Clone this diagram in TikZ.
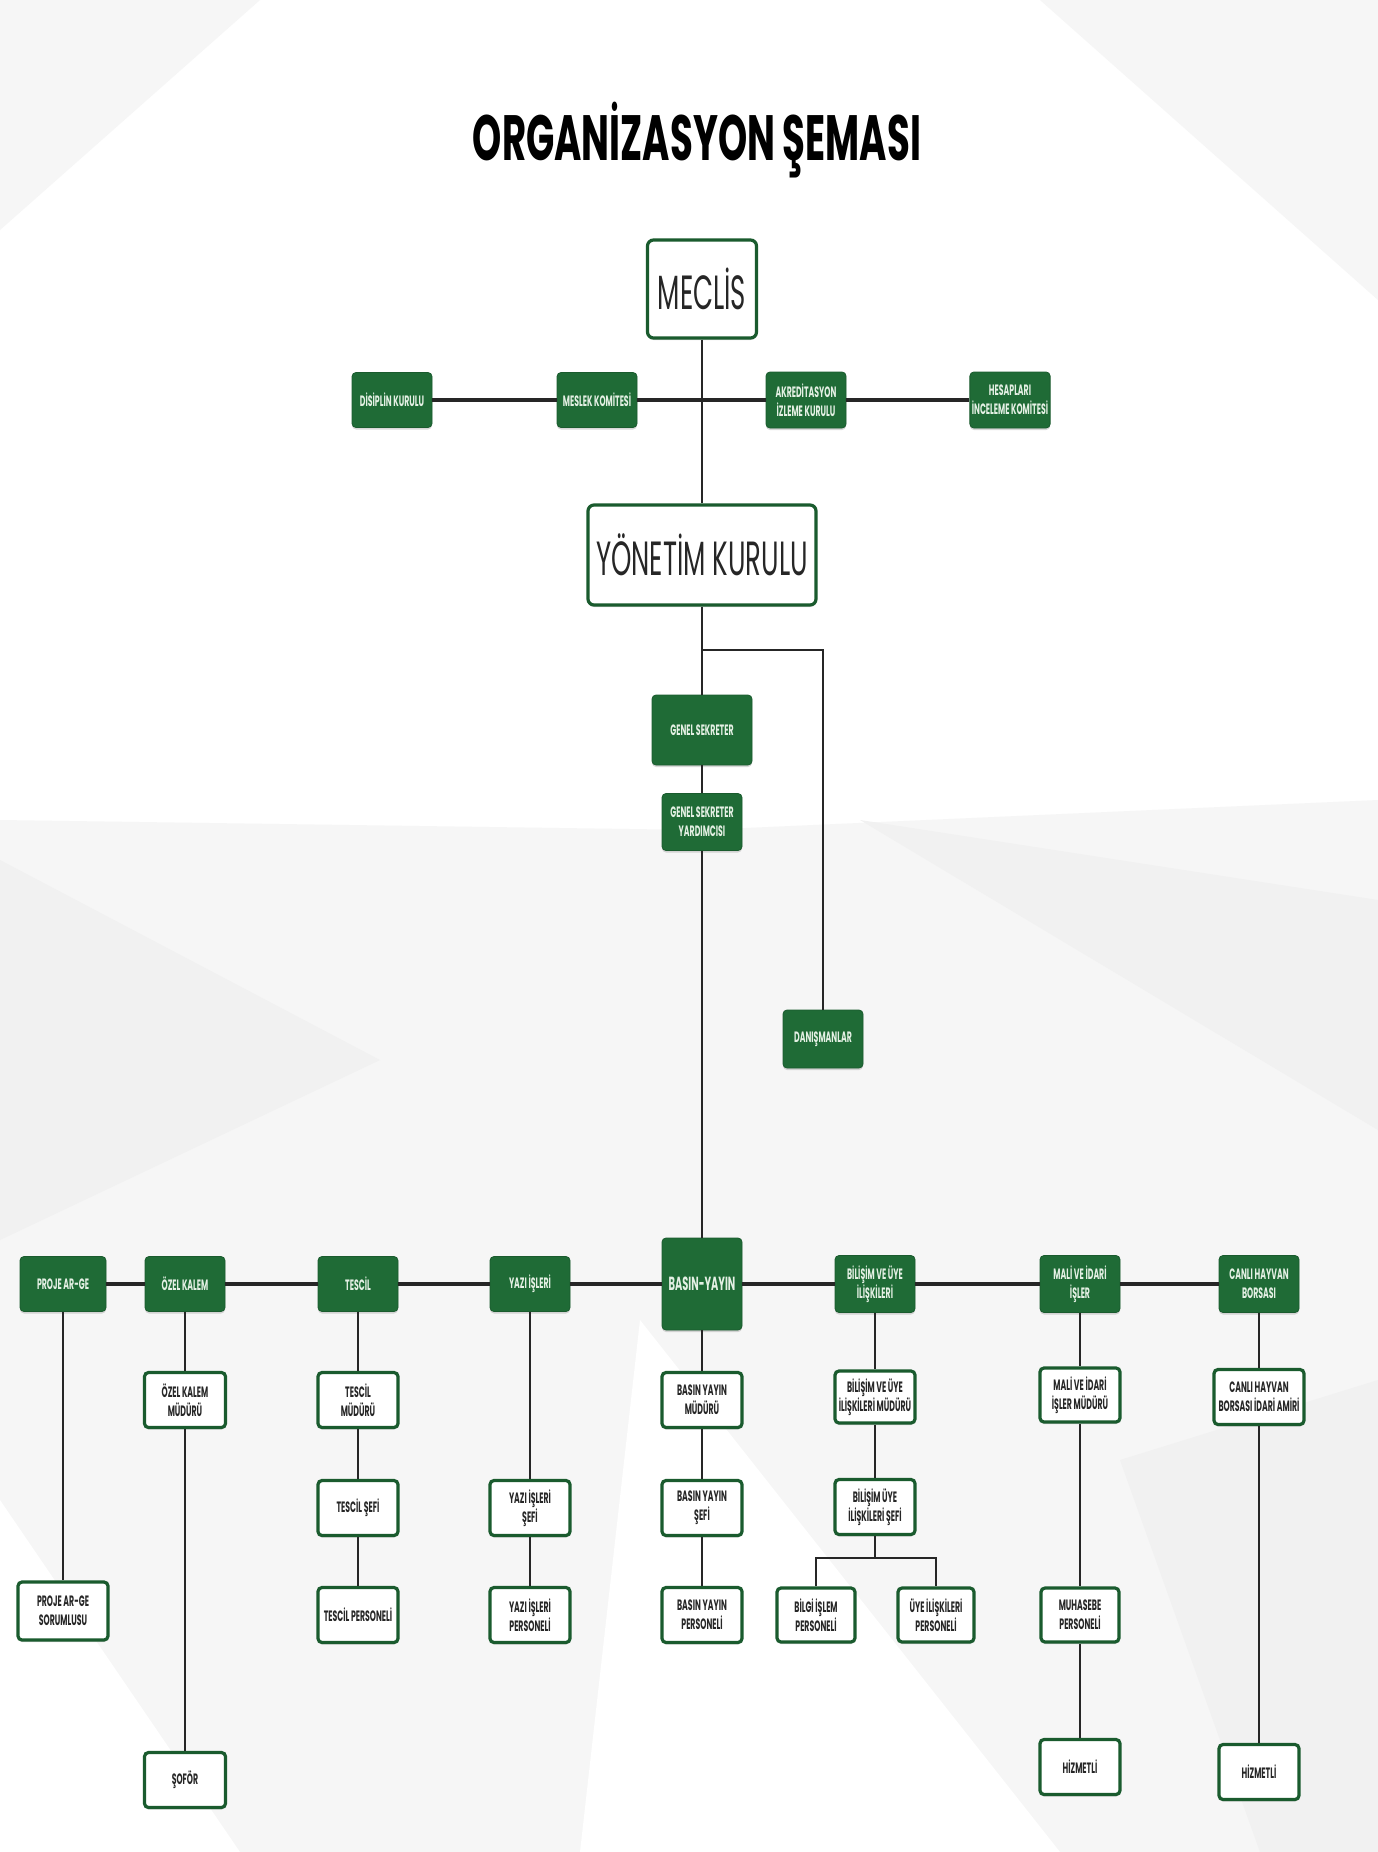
\documentclass[tikz,border=0pt]{standalone}
\usepackage{fontspec}
\setmainfont{Poppins}
\newfontfamily\sqfont[FakeStretch=0.52]{Poppins}
\newfontfamily\bigfont[FakeStretch=0.54]{Poppins}
\newfontfamily\ttlfont[FakeStretch=0.58]{Poppins}
\usetikzlibrary{shadows}
\definecolor{dgreen}{HTML}{1F6B36}
\definecolor{lgtext}{HTML}{E4F0E4}
\definecolor{linec}{HTML}{262626}
\definecolor{bgA}{HTML}{F6F6F6}
\definecolor{bgB}{HTML}{F1F1F1}
\tikzset{
  gbox/.style={draw=dgreen!85!black, fill=dgreen, rounded corners=4pt, line width=0.8pt,
    minimum width=80pt, minimum height=55pt, inner sep=2pt, align=center, text=lgtext,
    font=\sqfont\bfseries\fontsize{15}{19}\selectfont,
    drop shadow={shadow xshift=0pt, shadow yshift=-2pt, opacity=0.3}},
  wbox/.style={draw=dgreen!85!black, fill=white, rounded corners=4pt, line width=3.2pt,
    minimum width=80pt, minimum height=55pt, inner sep=2pt, align=center, text=black!85,
    font=\sqfont\bfseries\fontsize{15}{19}\selectfont,
    drop shadow={shadow xshift=0pt, shadow yshift=-2pt, opacity=0.3}},
  bigw/.style={wbox, font=\bigfont\fontsize{48}{52}\selectfont, rounded corners=6pt},
  conn/.style={draw=linec, line width=2.5pt},
  hconn/.style={draw=linec, line width=4pt},
}
\begin{document}
\begin{tikzpicture}[x=1pt, y=-1pt]
\useasboundingbox (0,0) rectangle (1378,1852);
% background
\fill[white] (0,0) rectangle (1378,1852);
\fill[bgA] (0,0) -- (260,0) -- (0,230) -- cycle;
\fill[bgA] (1040,0) -- (1378,0) -- (1378,300) -- cycle;
\fill[bgA] (0,820) -- (700,830) -- (1378,800) -- (1378,1852) -- (0,1852) -- cycle;
\fill[bgB] (0,860) -- (380,1060) -- (0,1240) -- cycle;
\fill[bgB] (860,820) -- (1378,900) -- (1378,1130) -- cycle;
\fill[white] (640,1320) -- (1060,1852) -- (580,1852) -- cycle;
\fill[bgB] (1120,1460) -- (1378,1380) -- (1378,1852) -- (1260,1852) -- cycle;
\fill[white] (0,1500) -- (240,1852) -- (0,1852) -- cycle;

% title
\node (title) at (697,140) {\ttlfont\bfseries\fontsize{64}{64}\selectfont ORGANİZASYON ŞEMASI};

% top
\node[bigw, minimum width=109pt, minimum height=98pt] (meclis) at (702,289) {MECLİS};
\node[gbox] (disiplin) at (392,400) {DİSİPLİN KURULU};
\node[gbox] (meslek) at (597,400) {MESLEK KOMİTESİ};
\node[gbox, minimum height=56pt] (akred) at (806,400) {AKREDİTASYON\\İZLEME KURULU};
\node[gbox, minimum height=56pt] (hesap) at (1010,400) {HESAPLARI\\İNCELEME KOMİTESİ};
\node[bigw, minimum width=228pt, minimum height=100pt] (yonetim) at (702,555) {YÖNETİM KURULU};

\node[gbox, minimum width=100pt, minimum height=70pt] (genel) at (702,730) {GENEL SEKRETER};
\node[gbox, minimum height=57pt] (yard) at (702,822) {GENEL SEKRETER\\YARDIMCISI};
\node[gbox, minimum height=58pt] (danis) at (823,1039) {DANIŞMANLAR};
\coordinate (jd) at (702,650);

% departments
\node[gbox, minimum height=92pt, font=\sqfont\bfseries\fontsize{19}{22}\selectfont] (basin) at (702,1284) {BASIN-YAYIN};
\node[gbox, minimum width=86pt] (proje) at (63,1284) {PROJE AR-GE};
\node[gbox] (ozel) at (185,1284) {ÖZEL KALEM};
\node[gbox] (tescil) at (358,1284) {TESCİL};
\node[gbox] (yazi) at (530,1284) {YAZI İŞLERİ};
\node[gbox, minimum height=57pt] (bilisim) at (875,1284) {BİLİŞİM VE ÜYE\\İLİŞKİLERİ};
\node[gbox, minimum height=57pt] (mali) at (1080,1284) {MALİ VE İDARİ\\İŞLER};
\node[gbox, minimum height=57pt] (canli) at (1259,1284) {CANLI HAYVAN\\BORSASI};

% sub units
\node[wbox, minimum width=90pt, minimum height=58pt] (projeS) at (63,1611) {PROJE AR-GE\\SORUMLUSU};
\node[wbox, minimum width=81pt] (ozelM) at (185,1400) {ÖZEL KALEM\\MÜDÜRÜ};
\node[wbox, minimum width=81pt] (sofor) at (185,1780) {ŞOFÖR};
\node[wbox] (tescilM) at (358,1400) {TESCİL\\MÜDÜRÜ};
\node[wbox] (tescilS) at (358,1508) {TESCİL ŞEFİ};
\node[wbox] (tescilP) at (358,1615) {TESCİL PERSONELİ};
\node[wbox] (yaziS) at (530,1508) {YAZI İŞLERİ\\ŞEFİ};
\node[wbox] (yaziP) at (530,1615) {YAZI İŞLERİ\\PERSONELİ};
\node[wbox] (basinM) at (702,1400) {BASIN YAYIN\\MÜDÜRÜ};
\node[wbox] (basinS) at (702,1508) {BASIN YAYIN\\ŞEFİ};
\node[wbox] (basinP) at (702,1615) {BASIN YAYIN\\PERSONELİ};
\node[wbox, minimum height=52pt] (bilM) at (875,1397) {BİLİŞİM VE ÜYE\\İLİŞKİLERİ MÜDÜRÜ};
\node[wbox] (bilS) at (875,1507) {BİLİŞİM ÜYE\\İLİŞKİLERİ ŞEFİ};
\node[wbox, minimum width=78pt, minimum height=54pt] (bilgiP) at (816,1615) {BİLGİ İŞLEM\\PERSONELİ};
\node[wbox, minimum width=76pt, minimum height=54pt] (uyeP) at (936,1615) {ÜYE İLİŞKİLERİ\\PERSONELİ};
\coordinate (split) at (875,1558);
\node[wbox, minimum height=54pt] (maliM) at (1080,1395) {MALİ VE İDARİ\\İŞLER MÜDÜRÜ};
\node[wbox, minimum width=78pt, minimum height=54pt] (muhP) at (1080,1615) {MUHASEBE\\PERSONELİ};
\node[wbox] (hizm1) at (1080,1767) {HİZMETLİ};
\node[wbox, minimum width=90pt] (canliA) at (1259,1397) {CANLI HAYVAN\\BORSASI İDARİ AMİRİ};
\node[wbox] (hizm2) at (1259,1772) {HİZMETLİ};

% connectors
\draw[hconn] (disiplin.east) -- (meslek.west);
\draw[hconn] (meslek.east) -- (akred.west);
\draw[hconn] (akred.east) -- (hesap.west);
\draw[conn] (meclis.south) -- (yonetim.north);
\draw[conn] (yonetim.south) -- (genel.north);
\draw[conn] (jd) -| (danis.north);
\draw[conn] (genel.south) -- (yard.north);
\draw[conn] (yard.south) -- (basin.north);

\draw[hconn] (proje.east) -- (ozel.west);
\draw[hconn] (ozel.east) -- (tescil.west);
\draw[hconn] (tescil.east) -- (yazi.west);
\draw[hconn] (yazi.east) -- (basin.west);
\draw[hconn] (basin.east) -- (bilisim.west);
\draw[hconn] (bilisim.east) -- (mali.west);
\draw[hconn] (mali.east) -- (canli.west);

\draw[conn] (proje.south) -- (projeS.north);
\draw[conn] (ozel.south) -- (ozelM.north);
\draw[conn] (ozelM.south) -- (sofor.north);
\draw[conn] (tescil.south) -- (tescilM.north);
\draw[conn] (tescilM.south) -- (tescilS.north);
\draw[conn] (tescilS.south) -- (tescilP.north);
\draw[conn] (yazi.south) -- (yaziS.north);
\draw[conn] (yaziS.south) -- (yaziP.north);
\draw[conn] (basin.south) -- (basinM.north);
\draw[conn] (basinM.south) -- (basinS.north);
\draw[conn] (basinS.south) -- (basinP.north);
\draw[conn] (bilisim.south) -- (bilM.north);
\draw[conn] (bilM.south) -- (bilS.north);
\draw[conn] (bilS.south) -- (split);
\draw[conn] (bilgiP.north) |- (split) -| (uyeP.north);
\draw[conn] (mali.south) -- (maliM.north);
\draw[conn] (maliM.south) -- (muhP.north);
\draw[conn] (muhP.south) -- (hizm1.north);
\draw[conn] (canli.south) -- (canliA.north);
\draw[conn] (canliA.south) -- (hizm2.north);
\end{tikzpicture}
\end{document}
